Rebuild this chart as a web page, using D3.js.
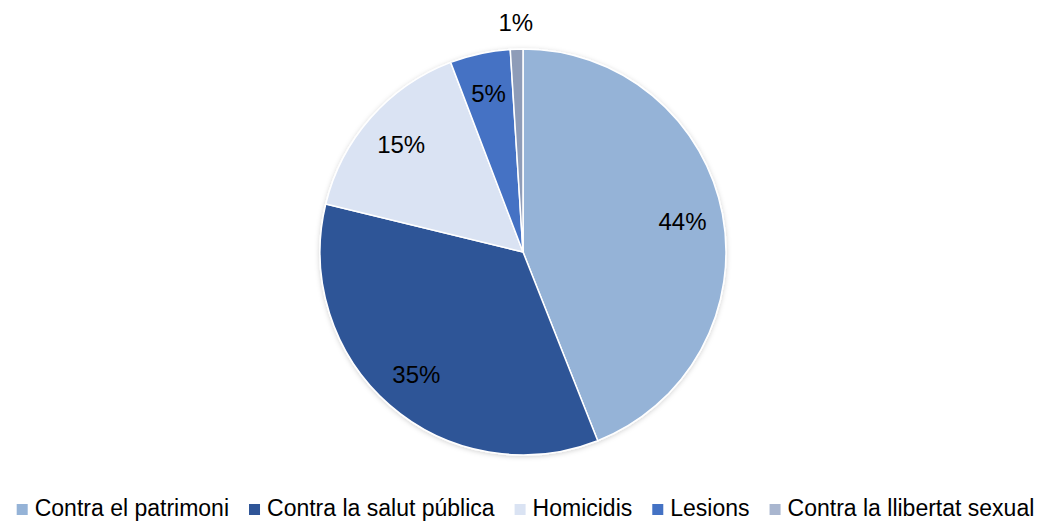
<!DOCTYPE html>
<html>
<head>
<meta charset="utf-8">
<script src="https://cdn.jsdelivr.net/npm/d3@7"></script>
<style>
  body { margin: 0; background: #fff; }
  text { font-family: "Liberation Sans", Arial, sans-serif; }
</style>
</head>
<body>
<div class="chart"></div>
<script>
var svgWidth = 1047;
var svgHeight = 522;

var categories = ["Contra el patrimoni", "Contra la salut pública", "Homicidis", "Lesions", "Contra la llibertat sexual"];
var values = [44.0, 34.8, 15.4, 4.8, 1.0];
var labels = ["44%", "35%", "15%", "5%", "1%"];
var colors = ["#95b3d7", "#2f5597", "#dae3f3", "#4472c4", "#8e9cb8"];
var legendColors = ["#95b3d7", "#2f5597", "#dae3f3", "#4472c4", "#a9b6cf"];

var cx = 523, cy = 252, radius = 203;

var svg = d3.select(".chart")
    .append("svg")
    .attr("width", svgWidth)
    .attr("height", svgHeight);

var defs = svg.append("defs");
var filter = defs.append("filter").attr("id", "shadow")
    .attr("x", "-10%").attr("y", "-10%").attr("width", "120%").attr("height", "120%");
filter.append("feDropShadow")
    .attr("dx", 0).attr("dy", 1).attr("stdDeviation", 2.5)
    .attr("flood-color", "#000").attr("flood-opacity", 0.18);

var data = categories.map(function(c, i) {
    return {name: c, value: values[i], label: labels[i], color: colors[i]};
});

var pie = d3.pie().sort(null).value(function(d) { return d.value; });
var arc = d3.arc().innerRadius(0).outerRadius(radius);
var labelArc = d3.arc().innerRadius(radius * 0.8).outerRadius(radius * 0.8);
var outerArc = d3.arc().innerRadius(radius + 27).outerRadius(radius + 27);

var chartGroup = svg.append("g")
    .attr("transform", "translate(" + cx + "," + cy + ")");

var arcs = pie(data);

chartGroup.append("g")
    .attr("filter", "url(#shadow)")
    .selectAll("path")
    .data(arcs)
    .enter()
    .append("path")
    .attr("d", arc)
    .attr("fill", function(d) { return d.data.color; })
    .attr("stroke", "#fff")
    .attr("stroke-width", 1.5);

chartGroup.selectAll(".lbl")
    .data(arcs)
    .enter()
    .append("text")
    .attr("class", "lbl")
    .attr("transform", function(d) {
        var p = d.data.value < 2 ? outerArc.centroid(d) : labelArc.centroid(d);
        return "translate(" + p + ")";
    })
    .attr("text-anchor", "middle")
    .attr("dy", "0.35em")
    .attr("font-size", "24px")
    .attr("fill", "#000")
    .text(function(d) { return d.data.label; });

// legend
var legend = svg.append("g").attr("class", "legend");
var items = legend.selectAll("g")
    .data(data)
    .enter()
    .append("g");

items.append("rect")
    .attr("width", 11)
    .attr("height", 11)
    .attr("y", -12)
    .attr("fill", function(d, i) { return legendColors[i]; });

items.append("text")
    .attr("x", 18)
    .attr("font-size", "23px")
    .attr("fill", "#000")
    .text(function(d) { return d.name; });

var gap = 20;
var xPos = 0;
items.each(function() {
    var w = d3.select(this).select("text").node().getComputedTextLength();
    d3.select(this).attr("transform", "translate(" + xPos + ",0)");
    xPos += 18 + w + gap;
});
var totalW = xPos - gap;
legend.attr("transform", "translate(" + ((svgWidth - totalW) / 2 + 2) + ",516)");
</script>
</body>
</html>
